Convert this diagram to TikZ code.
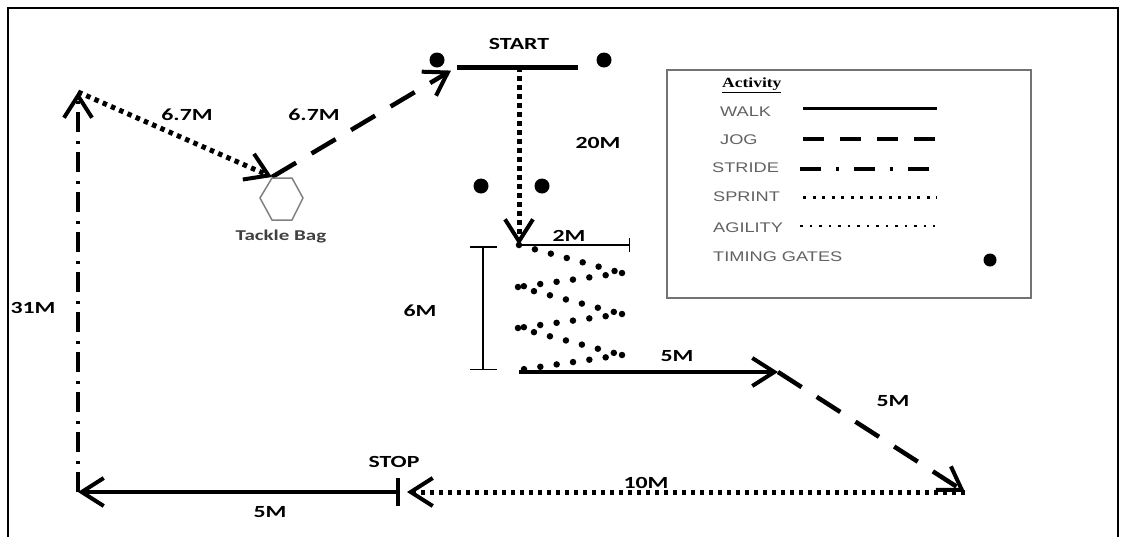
\documentclass[tikz,border=0pt]{standalone}
\usepackage{fontspec}
\setmainfont{Liberation Sans}
\newfontfamily\distfont[FakeStretch=1.4]{Carlito}
\newfontfamily\keyfont[FakeStretch=1.3]{Liberation Sans}
\newfontfamily\headfont[FakeStretch=1.25]{Liberation Serif}
\usetikzlibrary{arrows.meta}

\tikzset{
  walk/.style={line width=3.5pt},
  jog/.style={line width=4.5pt, dash pattern=on 28pt off 18pt},
  stride/.style={line width=4pt, dash pattern=on 20pt off 8pt on 3pt off 9pt},
  sprint/.style={line width=5pt, dash pattern=on 4.5pt off 4.5pt},
  agility/.style={line width=6.5pt, line cap=round, dash pattern=on 0pt off 16.5pt},
  tip/.style={-{Straight Barb[length=22pt,width=28pt,line width=4pt]}},
  gate/.style={circle, fill=black, inner sep=0pt, minimum size=15pt},
  dist/.style={font=\distfont\fontsize{17}{19}\bfseries},
  key/.style={anchor=west, font=\keyfont\fontsize{14}{16}\selectfont, text=black!62},
}

\begin{document}
\begin{tikzpicture}[x=1pt, y=-1pt]
      \useasboundingbox (0,0) rectangle (1124,536);
      \draw[line width=2pt] (8,540) -- (8,8) -- (1118,8) -- (1118,540);

      \coordinate (sl) at (457,67);
      \coordinate (sr) at (578,67);
      \coordinate (s) at (519,67);
      \coordinate (z0) at (519,245);
      \coordinate (z1) at (622,273);
      \coordinate (z2) at (518,287);
      \coordinate (z3) at (622,314);
      \coordinate (z4) at (518,328);
      \coordinate (z5) at (622,355);
      \coordinate (z6) at (518,370);
      \coordinate (w0) at (519,372);
      \coordinate (w1) at (778,372);
      \coordinate (j1) at (965,492);
      \coordinate (stop) at (398,492);
      \coordinate (corner) at (78,492);
      \coordinate (top) at (78,92);
      \coordinate (bag) at (272,177);

      % timing gates
      \node[gate] (g1) at (437,60) {};
      \node[gate] (g2) at (604,60) {};
      \node[gate] (g3) at (481,186) {};
      \node[gate] (g4) at (542,186) {};

      % start and stop lines
      \draw[line width=5pt] (sl) -- (sr);
      \draw[line width=4pt] (398,478) -- (398,506);

      % course
      \draw[sprint, tip] (s) -- (z0);
      \foreach \a/\b in {z0/z1, z1/z2, z2/z3, z3/z4, z4/z5, z5/z6}
        \draw[agility] (\a) -- (\b);
      \draw[walk, tip] (w0) -- (w1);
      \draw[jog, tip] (w1) -- (j1);
      \draw[sprint, tip, shorten >=9pt] (j1) -- (stop);
      \draw[walk, tip] (stop) -- (corner);
      \draw[stride, tip] (corner) -- (top);
      \draw[sprint, tip] (top) -- (bag);
      \draw[jog, tip, shorten >=7pt] (bag) -- (sl);

      % measures
      \draw[line width=1.3pt, -{Bar[width=14pt,line width=1.5pt]}] (z0) -- (630,245);
      \draw[line width=1.3pt, {Bar[width=27pt,line width=1.5pt]}-{Bar[width=27pt,line width=1.5pt]}] (483,246) -- (483,370);

      % tackle bag
      \draw[gray, line width=1.5pt] (260,198) -- (272,178) -- (292,178) -- (303,198)
        -- (292,220) -- (272,220) -- cycle;
      \node[font=\distfont\fontsize{15}{17}\bfseries, text=black!75] (tb) at (281,237) {Tackle Bag};

      % labels
      \node[dist] (lstart) at (519,44) {START};
      \node[dist] (lstop) at (394,462) {STOP};
      \node[dist] (l20) at (598,143) {20M};
      \node[dist] (l2) at (569,236) {2M};
      \node[dist] (l6) at (420,311) {6M};
      \node[dist] (l5a) at (677,356) {5M};
      \node[dist] (l5b) at (893,401) {5M};
      \node[dist] (l10) at (646,483) {10M};
      \node[dist] (l5c) at (270,512) {5M};
      \node[dist] (l31) at (33,308) {31M};
      \node[dist] (l67a) at (187,115) {6.7M};
      \node[dist] (l67b) at (314,115) {6.7M};

      % key
      \draw[black!55, line width=1.2pt] (667,70) rectangle (1031,298);
      \node[anchor=west, inner sep=0pt, font=\headfont\fontsize{14}{16}\bfseries] (act) at (722,85) {\underline{Activity}};
      \node[key, inner sep=0pt] (kwalk) at (720,112) {WALK};
      \node[key, inner sep=0pt] (kjog) at (720,140) {JOG};
      \node[key, inner sep=0pt] (kstride) at (712,168) {STRIDE};
      \node[key, inner sep=0pt] (ksprint) at (713,197) {SPRINT};
      \node[key, inner sep=0pt] (kagil) at (713,228) {AGILITY};
      \node[key, inner sep=0pt] (kgate) at (713,257) {TIMING GATES};
      \draw[line width=3pt] (803,108) -- (937,108);
      \draw[line width=3.5pt, dash pattern=on 21pt off 16pt] (803,139) -- (937,139);
      \draw[line width=3.5pt, dash pattern=on 21pt off 15pt on 3pt off 15pt] (800,169) -- (937,169);
      \draw[line width=3pt, dash pattern=on 3pt off 6.5pt] (803,197) -- (937,197);
      \draw[line width=2.5pt, dash pattern=on 2.5pt off 7pt] (800,226) -- (935,226);
      \node[gate, minimum size=13pt] (kdot) at (990,260) {};
    \end{tikzpicture}
\end{document}
